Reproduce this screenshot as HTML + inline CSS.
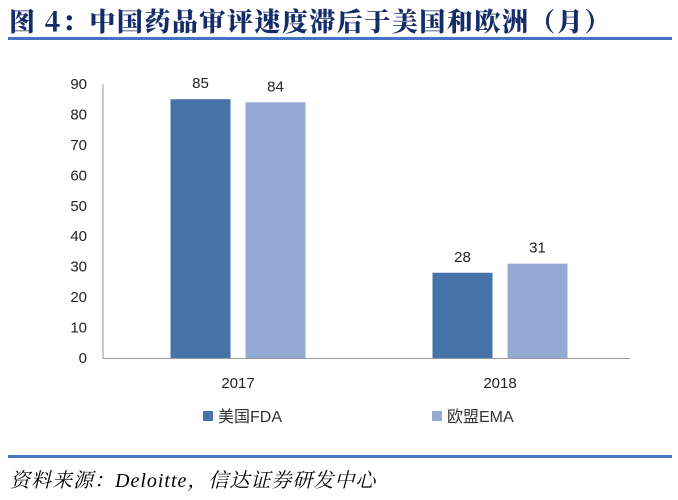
<!DOCTYPE html>
<html><head><meta charset="utf-8"><style>
body{margin:0;width:678px;height:500px;background:#fff;overflow:hidden;position:relative;font-family:"Liberation Sans","Noto Sans CJK SC",sans-serif}
#title{position:absolute;left:9px;top:2px;font:900 26px "Noto Serif CJK SC",serif;color:#142c6a;letter-spacing:1.5px;white-space:nowrap}
.rule{position:absolute;left:8px;width:664px;height:3px;background:#4472c4}
#src{position:absolute;left:10px;top:464px;font:italic 20px "Liberation Serif","Noto Serif CJK SC",serif;color:#000;white-space:nowrap;letter-spacing:1px}
</style></head><body>
<div id="title">图 4：中国药品审评速度滞后于美国和欧洲（月）</div>
<div class="rule" style="top:37px"></div>
<svg id="chart" width="678" height="500" style="position:absolute;left:0;top:0"></svg>
<div class="rule" style="top:455px"></div>
<div id="src">资料来源：Deloitte，信达证券研发中心</div>
<script>
const categories=["2017","2018"];
const seriesNames=["美国FDA","欧盟EMA"];
const fdaValues=[85,28];
const emaValues=[84,31];
const yTicks=[0,10,20,30,40,50,60,70,80,90];
const NS="http://www.w3.org/2000/svg";
const svg=document.getElementById('chart');
const axisX=103,x0=107,x1=631,xEnd=630,yBase=358,yTop=84,yMax=90;
const colors=["#4673a8","#95aad3"];
function y(v){return yBase-(yBase-yTop)*v/yMax;}
function catX(i){return x0+(x1-x0)/categories.length*(i+0.5);}
function mk(tag,attrs,txt){const e=document.createElementNS(NS,tag);for(const k in attrs)e.setAttribute(k,attrs[k]);if(txt!=null)e.textContent=txt;svg.appendChild(e);return e;}
let e;
e=mk('line',{x1:axisX,y1:yTop,x2:axisX,y2:yBase,stroke:'#999','stroke-width':1});


e=mk('line',{x1:axisX,y1:yBase+0.5,x2:xEnd,y2:yBase+0.5,stroke:'#999','stroke-width':1});


yTicks.forEach(t=>{
 e=mk('text',{x:87,y:y(t)+5,'text-anchor':'end','font-size':15,fill:'#222'},t);
 
 
});
const series=[fdaValues,emaValues];
const bw=60,gap=15;
categories.forEach((c,i)=>{
 const cx=catX(i);
 series.forEach((vals,s)=>{
  const bx=cx-gap/2-bw+s*(bw+gap);
  e=mk('rect',{x:bx,y:y(vals[i]),width:bw,height:yBase-y(vals[i]),fill:colors[s]});
  
  
  e=mk('text',{x:bx+bw/2,y:y(vals[i])-11,'text-anchor':'middle','font-size':15,fill:'#222'},vals[i]);
  
  
 });
 e=mk('text',{x:cx,y:388,'text-anchor':'middle','font-size':15,fill:'#222'},c);
 
 
});
const legX=[203,432];
seriesNames.forEach((n,s)=>{
 e=mk('rect',{x:legX[s],y:411,width:10,height:10,fill:colors[s]});
 
 
 e=mk('text',{x:legX[s]+15,y:422,'font-size':16,fill:'#333'},n);
 
 
});
</script>
</body></html>
